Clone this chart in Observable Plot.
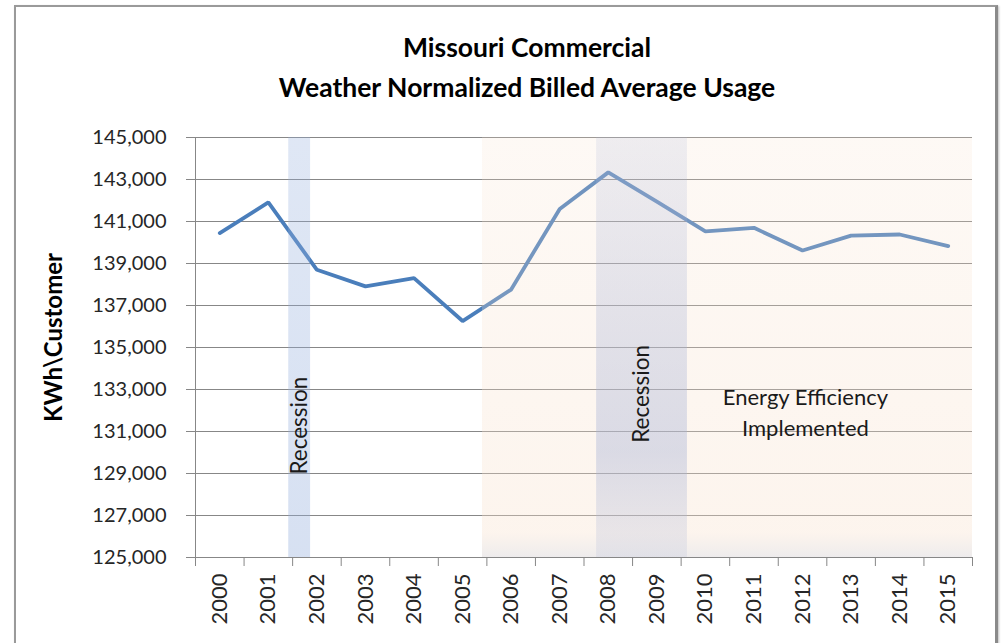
<!DOCTYPE html>
<html>
<head>
<meta charset="utf-8">
<script src="https://cdn.jsdelivr.net/npm/d3@7"></script>
<script src="https://cdn.jsdelivr.net/npm/@observablehq/plot@0.6"></script>
<style>
  html, body { margin: 0; padding: 0; background: #fff; overflow: hidden; }
  #wrap { position: relative; width: 1003px; height: 643px; }
  #frame { position: absolute; left: 14px; top: 5px; width: 979px; height: 700px;
           border-left: 2px solid #9a9a9a; border-top: 2px solid #9a9a9a; border-right: 3px solid #8a8a8a;
           box-shadow: 1px 1px 2px rgba(0,0,0,0.25); pointer-events: none; }
  #title { width: 1003px; box-sizing: border-box; padding-left: 51px; padding-top: 27px; height: 110px;
           text-align: center; font-family: Lato, sans-serif; font-weight: bold; font-size: 26.5px;
           line-height: 40px; color: #000; }
</style>
</head>
<body>
<div id="wrap">
  <div id="title">Missouri Commercial<br>Weather Normalized Billed Average Usage</div>
  <div id="chart"></div>
  <div id="frame"></div>
</div>
<script>
const years = [2000, 2001, 2002, 2003, 2004, 2005, 2006, 2007, 2008, 2009, 2010, 2011, 2012, 2013, 2014, 2015];
const usage = [140450, 141910, 138700, 137910, 138300, 136260, 137760, 141600, 143340, 141950, 140530, 140700, 139620, 140330, 140380, 139830];
const yTicks = [125000, 127000, 129000, 131000, 133000, 135000, 137000, 139000, 141000, 143000, 145000];
const recessions = [
  {start: 2001.42, end: 2001.87, id: "rec1", labelY: 128950},
  {start: 2007.76, end: 2009.63, id: "rec2", labelY: 130460}
];
const efficiency = [{start: 2005.41, end: 2015.5, label: "Energy Efficiency\nImplemented", labelX: 2012.06, labelY: 132000}];
const yLabel = "KWh\\Customer";

const data = years.map((y, i) => ({year: y, value: usage[i]}));
const bounds = years.map(y => y - 0.5).concat([years[years.length - 1] + 0.5]);

const plot = Plot.plot({
  width: 1003,
  height: 533,
  marginLeft: 195,
  marginRight: 31,
  marginTop: 27,
  marginBottom: 86,
  style: {fontFamily: "Lato, sans-serif", fontSize: "21px", color: "#262626", background: "transparent"},
  x: {domain: [1999.5, 2015.5]},
  y: {domain: [125000, 145000]},
  marks: [
    Plot.gridY(yTicks, {stroke: "#878787", strokeOpacity: 1, strokeWidth: 1}),
    Plot.line(data, {x: "year", y: "value", stroke: "#4a7ebb", strokeWidth: 3.8, strokeLinejoin: "miter"}),
    Plot.rect(efficiency, {x1: "start", x2: "end", fill: "url(#effGrad)"}),
    Plot.rect(recessions, {x1: "start", x2: "end", fill: d => `url(#${d.id}Grad)`}),
    Plot.ruleX([1999.5], {stroke: "#878787", strokeWidth: 1}),
    Plot.ruleY([125000], {stroke: "#878787", strokeWidth: 1}),
    Plot.axisY(yTicks, {tickFormat: d3.format(","), tickSize: 9, tickPadding: 20, stroke: "#878787", fontSize: 20, label: null}),
    Plot.axisX(bounds, {tickSize: 9, tickFormat: () => "", stroke: "#878787", label: null}),
    Plot.axisX(years, {tickSize: 0, tickPadding: 16, tickRotate: -90, tickFormat: d => String(d), fontSize: 22, label: null}),
    Plot.text([yLabel], {frameAnchor: "left", textAnchor: "middle", dx: -141, dy: -10, rotate: -90, fontWeight: "bold", fontSize: 24, fill: "#000"}),
    Plot.text(recessions, {x: d => (d.start + d.end) / 2, y: "labelY", text: () => "Recession", rotate: -90, textAnchor: "start", fontSize: 22.5, fill: "#1a1a1a"}),
    Plot.text(efficiency, {x: "labelX", y: "labelY", text: "label", lineAnchor: "middle", fontSize: 22, lineHeight: 1.41, fill: "#1a1a1a"})
  ]
});

const defs = `
<defs>
  <linearGradient id="effGrad" x1="0" y1="0" x2="0" y2="1">
    <stop offset="0" stop-color="#f8e1cd" stop-opacity="0.2"/>
    <stop offset="0.94" stop-color="#f8e1cd" stop-opacity="0.35"/>
    <stop offset="1" stop-color="#d8d4d6" stop-opacity="0.45"/>
  </linearGradient>
  <linearGradient id="rec1Grad" x1="0" y1="0" x2="0" y2="1">
    <stop offset="0" stop-color="#95afdd" stop-opacity="0.3"/>
    <stop offset="1" stop-color="#95afdd" stop-opacity="0.38"/>
  </linearGradient>
  <linearGradient id="rec2Grad" x1="0" y1="0" x2="0" y2="1">
    <stop offset="0" stop-color="#aab4d6" stop-opacity="0.18"/>
    <stop offset="0.75" stop-color="#aab4d6" stop-opacity="0.42"/>
    <stop offset="1" stop-color="#b4bcd8" stop-opacity="0.22"/>
  </linearGradient>
</defs>`;
d3.select(plot).insert("g", ":first-child").html(defs);
document.getElementById("chart").appendChild(plot);
</script>
</body>
</html>
